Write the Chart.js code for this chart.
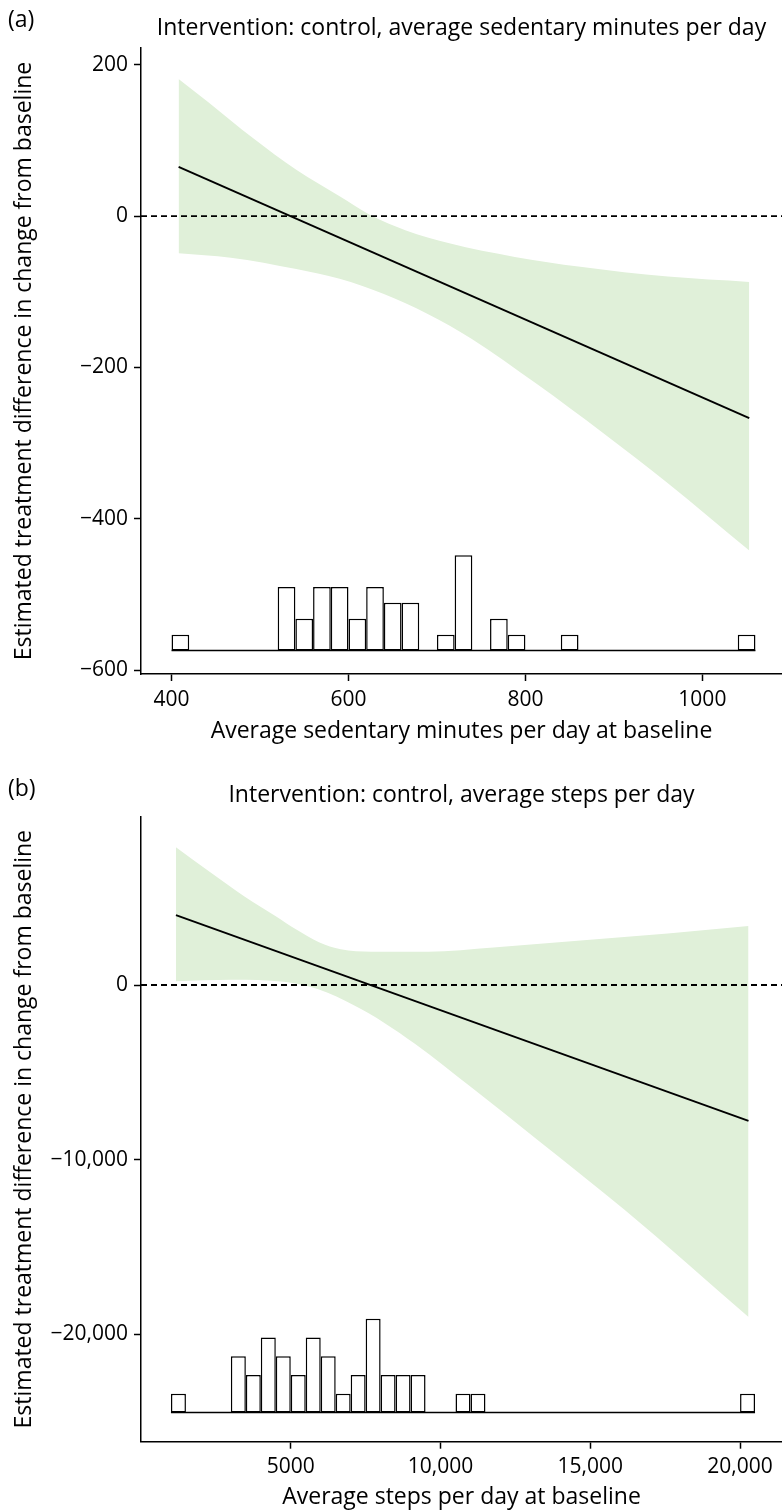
<!DOCTYPE html>
<html>
<head>
<meta charset="utf-8">
<title>Treatment difference by baseline activity</title>
<script src="https://cdn.jsdelivr.net/npm/chart.js@4.4.0/dist/chart.umd.min.js"></script>
<style>
    body { margin: 0; background: #fff; }
    .panel { position: absolute; left: 0; width: 782px; }
    .tag { position: absolute; left: 8px; font: 23px 'Open Sans'; line-height: 28px; color: #000; }
</style>
</head>
<body>
<div class="panel" style="top:0;height:756px"><canvas id="chartA" width="782" height="756"></canvas></div>
<div class="panel" style="top:756px;height:755px"><canvas id="chartB" width="782" height="755"></canvas></div>
<span class="tag" style="top:4px">(a)</span>
<span class="tag" style="top:773px">(b)</span>

<script>
// Panel (a): sedentary minutes
const xTicksA = [400, 600, 800, 1000];
const xTickLabelsA = ['400', '600', '800', '1000'];
const yTicksA = [-600, -400, -200, 0, 200];
const yTickLabelsA = ['\u2212600', '\u2212400', '\u2212200', '0', '200'];
const xRangeA = [365.5, 1090];
const yRangeA = [-605, 222];

const fitXA = [408, 1053];
const fitYA = [65, -267];

const bandUpperXA = [408, 442, 492, 541, 590, 625, 665, 714, 788, 862, 961, 1053];
const bandUpperA = [181, 150, 103, 61, 26, 1, -19, -36, -54, -67, -80, -87];
const bandLowerXA = [408, 467, 541, 590, 640, 689, 739, 813, 887, 961, 1053];
const bandLowerA = [-49, -55, -70, -83, -103, -129, -162, -222, -286, -353, -442];

// histogram of baseline values (bin width 20), drawn along the bottom
const histCentersA = [410, 530, 550, 570, 590, 610, 630, 650, 670, 710, 730, 770, 790, 850, 1050];
const histCountsA = [1, 4, 2, 4, 4, 2, 4, 3, 3, 1, 6, 2, 1, 1, 1];
const histEdgesA = [400, 1060];
const histBaseA = -574;
const histUnitA = 21;

// Panel (b): steps per day
const xTicksB = [5000, 10000, 15000, 20000];
const xTickLabelsB = ['5000', '10,000', '15,000', '20,000'];
const yTicksB = [-20000, -10000, 0];
const yTickLabelsB = ['\u221220,000', '\u221210,000', '0'];
const xRangeB = [0, 21400];
const yRangeB = [-26170, 9645];

const fitXB = [1167, 20282];
const fitYB = [4000, -7790];

const bandUpperXB = [1167, 2302, 3467, 4486, 5214, 5942, 6670, 7689, 9582, 11766, 14676, 17588, 20282];
const bandUpperB = [7900, 6470, 5060, 3960, 3150, 2450, 2050, 1910, 1910, 2150, 2550, 2950, 3380];
const bandLowerXB = [1167, 3030, 4777, 5941, 7106, 8125, 9144, 11037, 13220, 16132, 20282];
const bandLowerB = [220, 300, 180, -260, -1165, -2170, -3370, -5880, -8850, -12870, -19030];

// histogram (bin width 500)
const histCentersB = [1250, 3250, 3750, 4250, 4750, 5250, 5750, 6250, 6750, 7250, 7750, 8250, 8750, 9250, 10750, 11250, 20250];
const histCountsB = [1, 3, 2, 4, 3, 2, 4, 3, 1, 2, 5, 2, 2, 2, 1, 1, 1];
const histEdgesB = [1000, 20500];
const histBaseB = -24500;
const histUnitB = 1075;

const bandColor = 'rgb(224, 240, 217)';
const yTitle = 'Estimated treatment difference in change from baseline';

Chart.defaults.font.family = "'Open Sans'";
Chart.defaults.font.size = 21;
Chart.defaults.color = '#000';

function points(xs, ys) {
    return xs.map((x, i) => ({ x: x, y: ys[i] }));
}

// first dataset is drawn on top
function buildDatasets(p) {
    return [
        {   // fitted line
            data: points(p.fitX, p.fitY),
            borderColor: '#000', borderWidth: 1.9, pointRadius: 0, fill: false
        },
        {   // reference line at zero
            data: points(p.xRange, [0, 0]),
            borderColor: '#000', borderWidth: 1.8, borderDash: [6, 4], pointRadius: 0, fill: false
        },
        {   // histogram baseline
            data: points(p.histEdges, [p.histBase, p.histBase]),
            borderColor: '#000', borderWidth: 1.5, pointRadius: 0, fill: false
        },
        {
            type: 'bar',
            data: p.histCenters.map((x, i) => ({ x: x, y: [p.histBase, p.histBase + p.histCounts[i] * p.histUnit] })),
            backgroundColor: '#fff', borderColor: '#000', borderWidth: 1.5, borderSkipped: false,
            barPercentage: 1, categoryPercentage: 1, inflateAmount: 0
        },
        {   // confidence band
            data: points(p.upperX, p.upper),
            borderColor: 'rgba(0,0,0,0)', borderWidth: 0, pointRadius: 0,
            backgroundColor: bandColor, fill: '+1', cubicInterpolationMode: 'monotone'
        },
        {
            data: points(p.lowerX, p.lower),
            borderColor: 'rgba(0,0,0,0)', borderWidth: 0, pointRadius: 0,
            fill: false, cubicInterpolationMode: 'monotone'
        }
    ];
}

function buildOptions(p) {
    const axisGrid = { display: true, offset: false, drawOnChartArea: false, drawTicks: true, tickLength: 7, tickColor: '#000', tickWidth: 1.5 };
    const axisBorder = { display: true, color: '#000', width: 1.5 };
    return {
        responsive: false,
        animation: false,
        layout: { padding: 0 },
        plugins: {
            legend: { display: false },
            tooltip: { enabled: false },
            title: {
                display: true, text: p.title, fullSize: false, color: '#000',
                font: { size: 23, weight: 'normal' }, padding: p.titlePad
            }
        },
        scales: {
            x: {
                type: 'linear', min: p.xRange[0], max: p.xRange[1], offset: false,
                grid: axisGrid, border: axisBorder,
                afterBuildTicks: s => { s.ticks = p.xTicks.map(v => ({ value: v })); },
                afterFit: s => { s.height = p.xAxisHeight; },
                ticks: { autoSkip: false, maxRotation: 0, padding: 6, callback: (v, i) => p.xTickLabels[i] },
                title: { display: true, text: p.xTitle, font: { size: 23 }, padding: { top: 0, bottom: p.xTitleBottom } }
            },
            y: {
                type: 'linear', min: p.yRange[0], max: p.yRange[1], offset: false,
                grid: axisGrid, border: axisBorder,
                afterBuildTicks: s => { s.ticks = p.yTicks.map(v => ({ value: v })); },
                afterFit: s => { s.width = 141; },
                ticks: { autoSkip: false, padding: 6, callback: (v, i) => p.yTickLabels[i] },
                title: { display: true, text: yTitle, font: { size: 23 }, padding: { top: 11, bottom: 0 } }
            }
        }
    };
}

const panelA = {
    title: 'Intervention: control, average sedentary minutes per day',
    xTitle: 'Average sedentary minutes per day at baseline',
    titlePad: { top: 14.2, bottom: 6.2 }, xAxisHeight: 82, xTitleBottom: 10.5,
    xTicks: xTicksA, xTickLabels: xTickLabelsA, yTicks: yTicksA, yTickLabels: yTickLabelsA,
    xRange: xRangeA, yRange: yRangeA, fitX: fitXA, fitY: fitYA,
    upperX: bandUpperXA, upper: bandUpperA, lowerX: bandLowerXA, lower: bandLowerA,
    histCenters: histCentersA, histCounts: histCountsA, histEdges: histEdgesA,
    histBase: histBaseA, histUnit: histUnitA
};

const panelB = {
    title: 'Intervention: control, average steps per day',
    xTitle: 'Average steps per day at baseline',
    titlePad: { top: 25.2, bottom: 7.9 }, xAxisHeight: 69.3, xTitleBottom: 0,
    xTicks: xTicksB, xTickLabels: xTickLabelsB, yTicks: yTicksB, yTickLabels: yTickLabelsB,
    xRange: xRangeB, yRange: yRangeB, fitX: fitXB, fitY: fitYB,
    upperX: bandUpperXB, upper: bandUpperB, lowerX: bandLowerXB, lower: bandLowerB,
    histCenters: histCentersB, histCounts: histCountsB, histEdges: histEdgesB,
    histBase: histBaseB, histUnit: histUnitB
};

new Chart(document.getElementById('chartA').getContext('2d'), {
    type: 'line',
    data: { datasets: buildDatasets(panelA) },
    options: buildOptions(panelA)
});

new Chart(document.getElementById('chartB').getContext('2d'), {
    type: 'line',
    data: { datasets: buildDatasets(panelB) },
    options: buildOptions(panelB)
});
</script>
</body>
</html>
